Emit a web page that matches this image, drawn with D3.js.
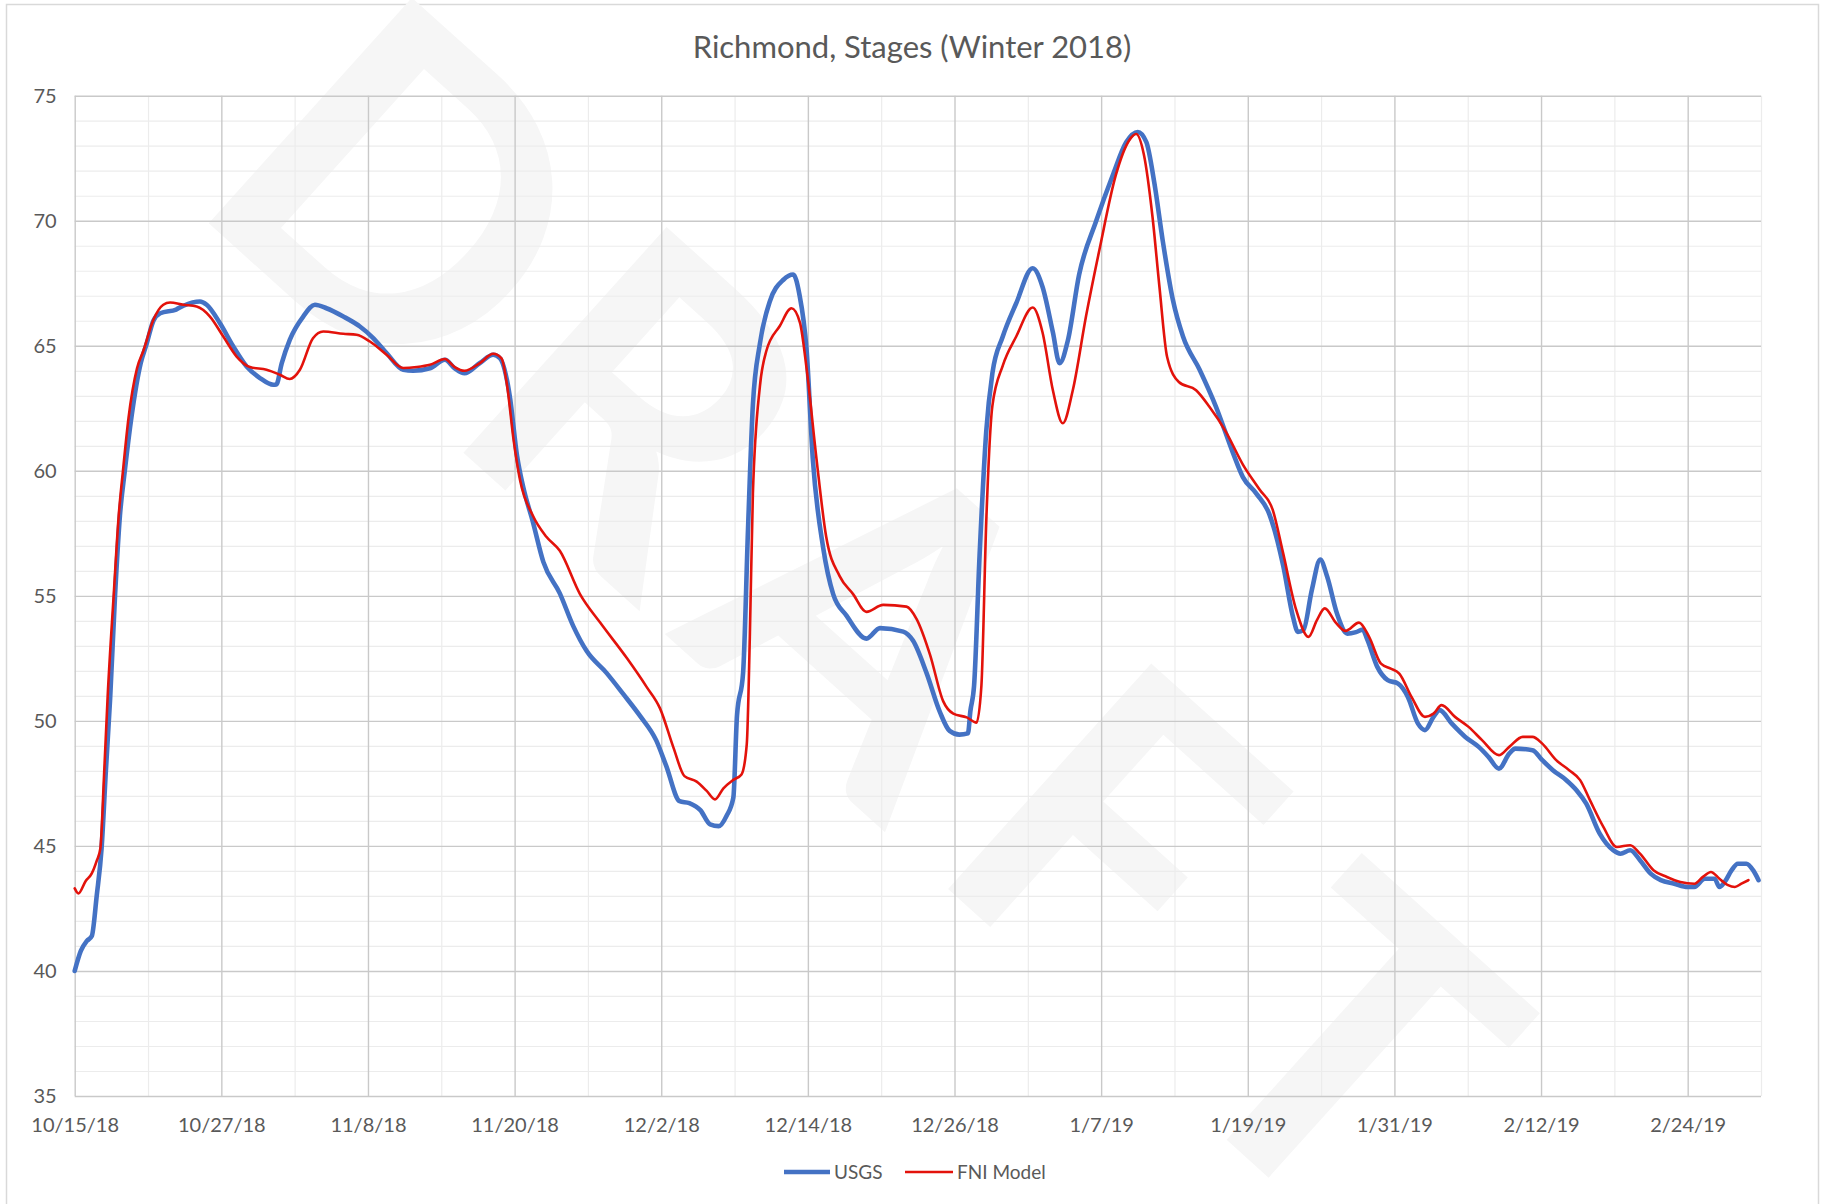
<!DOCTYPE html>
<html>
<head>
<meta charset="utf-8">
<title>Richmond, Stages (Winter 2018)</title>
<script src="https://cdn.jsdelivr.net/npm/d3@7"></script>
<style>
  html, body { margin: 0; padding: 0; background: #ffffff; }
  svg { display: block; font-family: Lato, "Open Sans", "Liberation Sans", sans-serif; }
</style>
</head>
<body>
<svg id="chart" width="1829" height="1204"></svg>
<script>
// ---- Data -------------------------------------------------------------
const chartTitle = "Richmond, Stages (Winter 2018)";
const seriesNames = ["USGS", "FNI Model"];
const xTickLabels = ["10/15/18", "10/27/18", "11/8/18", "11/20/18", "12/2/18", "12/14/18",
                     "12/26/18", "1/7/19", "1/19/19", "1/31/19", "2/12/19", "2/24/19"];
const xEndLabel = "3/2/19";
const yTicks = [35, 40, 45, 50, 55, 60, 65, 70, 75];

// Days elapsed since 10/15/18 and the stage (ft) at that moment.
const usgsDay = [0, 0.5, 1.0, 1.4, 1.8, 2.2, 2.55, 2.9, 3.3, 3.7, 4.1, 4.66, 5.4, 5.9, 6.44, 7.0, 8.3, 8.9,
  10.25, 10.8, 11.89, 12.98, 14.07, 15.16, 16.25, 16.5, 16.94, 17.6, 18.7, 19.66, 20.6, 21.98, 23.34,
  24.43, 25.52, 26.89, 27.7, 29.07, 30.3, 31.1, 31.9, 33.16, 34.25, 34.8, 35.6, 36.2, 36.7, 37.5, 38.35,
  39.7, 40.8, 41.9, 43.5, 44.9, 46.25, 47.6, 48.4, 49.5, 50.3, 51.2, 52.0, 52.7, 53.35, 53.9, 54.2, 54.7,
  55.1, 55.5, 56.07, 56.9, 58.0, 58.8, 59.3, 59.9, 60.4, 61.25, 62.07, 63.16, 64.8, 65.9, 67.8, 68.6,
  69.7, 70.8, 71.6, 72.4, 73.1, 73.3, 73.6, 74.05, 74.6, 75.1, 75.95, 77.05, 78.4, 79.2, 80.05, 80.6,
  81.27, 82.2, 83.6, 84.95, 86.05, 87.0, 87.7, 88.36, 89.05, 89.86, 90.7, 92.05, 93.4, 94.77, 95.6,
  96.7, 97.77, 98.9, 99.7, 100.1, 100.55, 101.24, 101.93, 102.5, 103.3, 104.14, 104.86, 105.4, 105.8,
  106.6, 107.45, 108.3, 109.1, 109.93, 110.5, 111.2, 111.7, 112.7, 113.8, 114.9, 115.7, 116.55, 117.4,
  117.9, 119.3, 120.1, 120.97, 122.07, 122.9, 123.7, 124.8, 125.9, 126.5, 127.3, 128.1, 128.97, 129.8,
  130.9, 132.0, 132.55, 133.4, 134.2, 134.6, 135.03, 135.6, 136.1, 136.8, 137.35, 137.8];
const usgsStage = [40.0, 40.8, 41.2, 41.4, 43.0, 44.9, 48.0, 50.9, 55.0, 58.2, 60.0, 62.2, 64.3, 65.1, 66.0, 66.3, 66.45, 66.6,
  66.77, 66.64, 65.9, 64.97, 64.17, 63.71, 63.44, 63.45, 64.3, 65.24, 66.17, 66.64, 66.5, 66.17, 65.77,
  65.31, 64.71, 64.04, 64.0, 64.1, 64.44, 64.1, 63.9, 64.31, 64.64, 64.5, 63.0, 60.6, 59.36, 57.95, 56.36,
  55.1, 53.79, 52.79, 51.93, 51.07, 50.21, 49.21, 48.21, 46.79, 46.71, 46.43, 45.86, 45.79, 46.21, 46.93, 50.21, 51.93,
  57.64, 62.64, 65.07, 66.79, 67.64, 67.85, 67.07, 64.79, 60.5, 56.93, 55.07, 54.21, 53.29, 53.71, 53.57, 53.21,
  51.93, 50.36, 49.6, 49.45, 49.5, 50.4, 51.4, 56.6, 61.6, 63.9, 65.37, 66.7, 68.1, 67.36, 65.54, 64.3,
  65.2, 67.85, 70.0, 71.82, 73.14, 73.55, 73.14, 71.49, 69.17, 66.86, 65.37, 64.05, 62.56, 60.74, 59.75,
  59.09, 58.26, 56.2, 54.16, 53.56, 53.63, 55.23, 56.45, 55.76, 54.29, 53.49, 53.55, 53.65, 53.23,
  52.16, 51.63, 51.49, 50.96, 49.89, 49.63, 50.16, 50.43, 49.89, 49.36, 48.96, 48.56, 48.09, 48.69,
  48.89, 48.83, 48.43, 48.03, 47.63, 47.23, 46.69, 45.49, 44.83, 44.69, 44.83, 44.43, 43.89, 43.63,
  43.49, 43.36, 43.36, 43.69, 43.69, 43.36, 43.56, 44.03, 44.29, 44.29, 44.03, 43.63];

const fniDay = [0, 0.3, 0.9, 1.4, 1.8, 2.1, 2.4, 2.7, 3.2, 3.6, 3.95, 4.4, 5.1, 5.62, 6.44, 7.25, 7.8, 8.89,
  9.98, 11.07, 12.16, 13.25, 14.34, 15.7, 16.8, 17.6, 18.43, 19.5, 20.34, 21.98, 23.07, 24.16, 25.52,
  26.89, 28.0, 29.07, 30.3, 31.1, 31.9, 33.16, 34.25, 34.93, 35.4, 35.9, 36.44, 37.5, 38.6, 39.7, 41.35,
  43.0, 45.2, 46.8, 47.9, 49.0, 49.9, 50.9, 51.7, 52.4, 53.07, 53.9, 54.57, 55.0, 55.25, 55.5, 56.07,
  56.6, 57.7, 58.66, 59.35, 59.9, 60.7, 61.5, 62.6, 63.7, 64.8, 66.16, 68.07, 68.9, 70.0, 71.07, 71.9,
  73.0, 73.8, 74.2, 74.6, 75.1, 75.95, 77.05, 78.4, 79.2, 80.05, 80.86, 81.68, 82.77, 83.86, 85.2, 86.3,
  86.86, 87.5, 88.2, 88.77, 89.4, 90.36, 91.77, 92.86, 94.2, 95.6, 96.95, 98.05, 98.86, 99.95, 100.97,
  101.66, 102.3, 103.2, 104.0, 105.1, 105.93, 106.9, 107.7, 108.4, 109.4, 110.5, 111.2, 111.86, 112.96,
  114.07, 115.17, 116.55, 117.4, 118.5, 119.3, 120.1, 121.24, 122.3, 123.2, 124.0, 125.1, 126.2, 127.3,
  128.1, 129.2, 130.3, 131.4, 132.55, 133.24, 133.9, 134.6, 135.3, 135.86, 136.4, 136.97];
const fniStage = [43.3, 43.1, 43.6, 43.9, 44.4, 44.9, 47.8, 51.0, 55.1, 58.2, 60.0, 62.1, 64.1, 64.8, 66.04, 66.64, 66.73, 66.64,
  66.57, 66.17, 65.37, 64.57, 64.15, 64.04, 63.84, 63.67, 64.04, 65.3, 65.57, 65.48, 65.44, 65.17, 64.64,
  64.11, 64.15, 64.24, 64.47, 64.15, 64.0, 64.31, 64.68, 64.5, 63.36, 61.3, 59.64, 58.2, 57.36, 56.8, 55.07,
  53.93, 52.5, 51.36, 50.5, 48.93, 47.79, 47.57, 47.21, 46.86, 47.29, 47.64, 47.86, 49.07, 53.36, 59.07, 63.36,
  64.79, 65.79, 66.5, 65.93, 64.07, 60.5, 57.36, 55.79, 55.07, 54.36, 54.64, 54.57, 54.07, 52.64, 50.79, 50.29,
  50.14, 49.93, 51.4, 58.0, 62.6, 64.21, 65.37, 66.53, 65.54, 63.22, 61.9, 63.22, 66.2, 68.84, 71.82, 73.22,
  73.47, 72.64, 70.17, 67.36, 64.55, 63.55, 63.22, 62.56, 61.57, 60.25, 59.26, 58.43, 56.78, 54.46, 53.36,
  54.03, 54.5, 53.93, 53.6, 53.93, 53.36, 52.29, 52.09, 51.89, 50.96, 50.16, 50.29, 50.63, 50.16,
  49.76, 49.23, 48.63, 48.96, 49.36, 49.36, 49.09, 48.43, 48.03, 47.63, 46.83, 45.76, 44.96, 45.03,
  44.69, 44.03, 43.76, 43.56, 43.49, 43.76, 43.96, 43.69, 43.43, 43.36, 43.49, 43.63];

// ---- Layout -----------------------------------------------------------
const W = 1829, H = 1204;
const plot = { left: 74.7, right: 1761, top: 95.7, bottom: 1096 };
const colors = { usgs: "#4472c4", fni: "#e3120b", major: "#c9c9c9", minor: "#ececec", text: "#595959" };

const svg = d3.select("#chart");
const parse = d3.utcParse("%m/%d/%y");
const startDate = parse(xTickLabels[0]);
const endDate = parse(xEndLabel);
const dayToDate = d => new Date(startDate.getTime() + d * 864e5);

const x = d3.scaleUtc().domain([startDate, endDate]).range([plot.left, plot.right]);
const y = d3.scaleLinear().domain([d3.min(yTicks), d3.max(yTicks)]).range([plot.bottom, plot.top]);

const majorDates = xTickLabels.map(parse);
const minorDates = majorDates.map(d => d3.utcDay.offset(d, 6));
const minorY = d3.range(d3.min(yTicks), d3.max(yTicks) + 1, 1).filter(v => !yTicks.includes(v));

// Chart background and frame
svg.append("rect").attr("x", 0).attr("y", 0).attr("width", W).attr("height", H).attr("fill", "#ffffff");
svg.append("rect").attr("x", 6.5).attr("y", 4.5).attr("width", 1812).attr("height", 1215)
  .attr("fill", "none").attr("stroke", "#d9d9d9").attr("stroke-width", 1.5);

// "DRAFT" watermark behind the plot, one glyph at a time along a diagonal
const mark = "DRAFT";
const markStep = 318, markAngle = 42;
const markCenter = [884, 612];
const rad = markAngle * Math.PI / 180;
svg.append("g").selectAll("text").data(mark.split("")).join("text")
  .attr("transform", (c, i) => {
    const t = (i - (mark.length - 1) / 2) * markStep;
    return `translate(${markCenter[0] + t * Math.cos(rad)},${markCenter[1] + t * Math.sin(rad)}) rotate(${markAngle})`;
  })
  .attr("text-anchor", "middle")
  .attr("dominant-baseline", "central")
  .attr("font-size", 420)
  .attr("font-weight", 700)
  .attr("fill", "#f6f6f6")
  .text(c => c);

// Minor gridlines
const grid = svg.append("g");
grid.append("g")
  .attr("transform", `translate(0,${plot.bottom})`)
  .call(d3.axisBottom(x).tickValues(minorDates).tickSize(-(plot.bottom - plot.top)).tickFormat(""))
  .call(g => g.select(".domain").remove())
  .call(g => g.selectAll("line").attr("stroke", colors.minor).attr("stroke-width", 1.2));
grid.append("g")
  .attr("transform", `translate(${plot.left},0)`)
  .call(d3.axisLeft(y).tickValues(minorY).tickSize(-(plot.right - plot.left)).tickFormat(""))
  .call(g => g.select(".domain").remove())
  .call(g => g.selectAll("line").attr("stroke", colors.minor).attr("stroke-width", 1.2));

// Major gridlines
grid.append("g")
  .attr("transform", `translate(0,${plot.bottom})`)
  .call(d3.axisBottom(x).tickValues(majorDates).tickSize(-(plot.bottom - plot.top)).tickFormat(""))
  .call(g => g.select(".domain").remove())
  .call(g => g.selectAll("line").attr("stroke", colors.major).attr("stroke-width", 1.4));
grid.append("g")
  .attr("transform", `translate(${plot.left},0)`)
  .call(d3.axisLeft(y).tickValues(yTicks).tickSize(-(plot.right - plot.left)).tickFormat(""))
  .call(g => g.select(".domain").remove())
  .call(g => g.selectAll("line").attr("stroke", colors.major).attr("stroke-width", 1.4));

// Axis labels
const fmtDate = d => xTickLabels[majorDates.findIndex(m => m.getTime() === d.getTime())];
svg.append("g")
  .attr("transform", `translate(0,${plot.bottom})`)
  .call(d3.axisBottom(x).tickValues(majorDates).tickSize(0).tickPadding(22).tickFormat(fmtDate))
  .call(g => g.select(".domain").remove())
  .call(g => g.selectAll("text").attr("fill", colors.text).attr("font-size", 20)
    .attr("font-family", "Lato, 'Open Sans', sans-serif"));
svg.append("g")
  .attr("transform", `translate(${plot.left},0)`)
  .call(d3.axisLeft(y).tickValues(yTicks).tickSize(0).tickPadding(18).tickFormat(d3.format("d")))
  .call(g => g.select(".domain").remove())
  .call(g => g.selectAll("text").attr("fill", colors.text).attr("font-size", 20)
    .attr("font-family", "Lato, 'Open Sans', sans-serif"));

// Series lines
const line = d3.line().x(d => x(dayToDate(d[0]))).y(d => y(d[1])).curve(d3.curveMonotoneX);
const usgs = usgsDay.map((d, i) => [d, usgsStage[i]]);
const fni = fniDay.map((d, i) => [d, fniStage[i]]);

svg.append("path").datum(usgs).attr("d", line)
  .attr("fill", "none").attr("stroke", colors.usgs).attr("stroke-width", 4.6)
  .attr("stroke-linejoin", "round").attr("stroke-linecap", "round");
svg.append("path").datum(fni).attr("d", line)
  .attr("fill", "none").attr("stroke", colors.fni).attr("stroke-width", 2.6)
  .attr("stroke-linejoin", "round").attr("stroke-linecap", "round");

// Title
svg.append("text")
  .attr("x", 912).attr("y", 58)
  .attr("text-anchor", "middle")
  .attr("font-size", 31)
  .attr("fill", colors.text)
  .text(chartTitle);

// Legend
const legend = svg.append("g").attr("transform", "translate(0,1172)");
const legendItems = [
  { name: seriesNames[0], color: colors.usgs, width: 4.6, x0: 784, x1: 830, tx: 834 },
  { name: seriesNames[1], color: colors.fni, width: 2.6, x0: 905, x1: 953, tx: 957 }
];
legendItems.forEach(it => {
  legend.append("line").attr("x1", it.x0).attr("x2", it.x1).attr("y1", 0).attr("y2", 0)
    .attr("stroke", it.color).attr("stroke-width", it.width);
  legend.append("text").attr("x", it.tx).attr("y", 7).attr("font-size", 19)
    .attr("fill", colors.text).text(it.name);
});
</script>
</body>
</html>
